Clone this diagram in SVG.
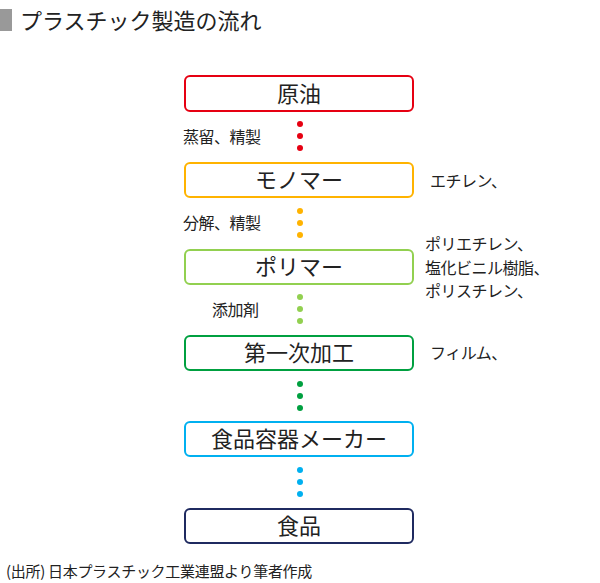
<svg xmlns="http://www.w3.org/2000/svg" width="600" height="583" viewBox="0 0 600 583">
<style>
text{font-family:"Noto Sans CJK JP","Noto Sans",sans-serif;fill:#222}
.box{fill:#fff;stroke-width:2}
.bl{font-size:22px;text-anchor:middle}
.lb{font-size:16px;letter-spacing:-0.5px}
</style>
<rect width="600" height="583" fill="#fff"/>
<rect x="0" y="9" width="12" height="22" fill="#999"/>
<text x="20" y="29" font-size="22">プラスチック製造の流れ</text>
<g id="connectors">
<g fill="#e60012"><circle cx="300" cy="124" r="3"/><circle cx="300" cy="136" r="3"/><circle cx="300" cy="148" r="3"/></g>
<g fill="#ffb300"><circle cx="300" cy="211" r="3"/><circle cx="300" cy="223" r="3"/><circle cx="300" cy="235" r="3"/></g>
<g fill="#92d050"><circle cx="300" cy="297" r="3"/><circle cx="300" cy="309" r="3"/><circle cx="300" cy="321" r="3"/></g>
<g fill="#00a040"><circle cx="300" cy="384" r="3"/><circle cx="300" cy="396" r="3"/><circle cx="300" cy="408" r="3"/></g>
<g fill="#00b0f0"><circle cx="300" cy="470" r="3"/><circle cx="300" cy="482" r="3"/><circle cx="300" cy="494" r="3"/></g>
</g>
<g id="n1"><rect class="box" x="185" y="76" width="228" height="35" rx="5" stroke="#e60012"/><text class="bl" x="299" y="102">原油</text></g>
<g id="n2"><rect class="box" x="185" y="163" width="228" height="34" rx="5" stroke="#ffb300"/><text class="bl" x="299" y="188">モノマー</text></g>
<g id="n3"><rect class="box" x="185" y="250" width="228" height="34" rx="5" stroke="#92d050"/><text class="bl" x="299" y="275">ポリマー</text></g>
<g id="n4"><rect class="box" x="185" y="336" width="228" height="34" rx="5" stroke="#00a040"/><text class="bl" x="299" y="361">第一次加工</text></g>
<g id="n5"><rect class="box" x="185" y="422" width="228" height="34" rx="5" stroke="#00b0f0"/><text class="bl" x="299" y="447">食品容器メーカー</text></g>
<g id="n6"><rect class="box" x="185" y="509" width="228" height="34" rx="5" stroke="#1f2a60"/><text class="bl" x="299" y="534">食品</text></g>
<text class="lb" x="183" y="143">蒸留、精製</text>
<text class="lb" x="183" y="229">分解、精製</text>
<text class="lb" x="212" y="316">添加剤</text>
<text class="lb" x="430" y="187">エチレン、</text>
<text class="lb" x="425" y="250">ポリエチレン、</text>
<text class="lb" x="425" y="274">塩化ビニル樹脂、</text>
<text class="lb" x="425" y="297">ポリスチレン、</text>
<text class="lb" x="430" y="359">フィルム、</text>
<text x="6" y="577" font-size="15" letter-spacing="-0.3">(出所) 日本プラスチック工業連盟より筆者作成</text>
</svg>
